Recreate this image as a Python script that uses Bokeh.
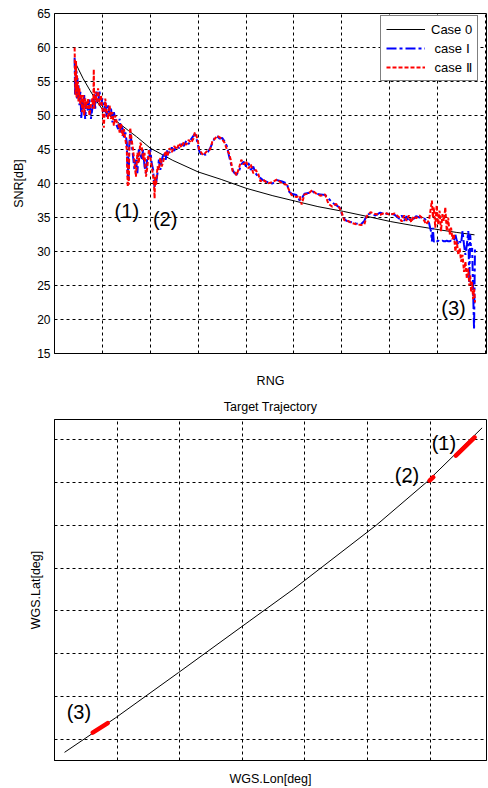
from bokeh.plotting import figure
from bokeh.models import Range1d, FixedTicker, Legend, LegendItem
from bokeh.layouts import column
from bokeh.embed import file_html
from bokeh.resources import INLINE
from bokeh.core.properties import value

# ---------------- data: SNR vs range ----------------
rng_x = [
    0.42, 0.43, 0.44, 0.45, 0.46, 0.47, 0.48, 0.49, 0.50, 0.52,
    0.54, 0.56, 0.58, 0.60, 0.62, 0.64, 0.67, 0.70, 0.73, 0.76,
    0.79, 0.81, 0.82, 0.83, 0.85, 0.88, 0.91, 0.94, 0.97, 1.00,
    1.03, 1.06, 1.09, 1.12, 1.15, 1.18, 1.21, 1.24, 1.27, 1.30,
    1.33, 1.36, 1.39, 1.42, 1.45, 1.48, 1.51, 1.52, 1.53, 1.54,
    1.55, 1.56, 1.58, 1.61, 1.64, 1.67, 1.70, 1.73, 1.76, 1.79,
    1.82, 1.85, 1.88, 1.91, 1.94, 1.97, 2.00, 2.03, 2.06, 2.08,
    2.09, 2.10, 2.12, 2.15, 2.18, 2.21, 2.24, 2.28, 2.32, 2.36,
    2.40, 2.45, 2.50, 2.55, 2.60, 2.65, 2.70, 2.75, 2.80, 2.85,
    2.90, 2.93, 2.96, 3.00, 3.02, 3.06, 3.10, 3.15, 3.20, 3.25,
    3.30, 3.35, 3.40, 3.45, 3.50, 3.55, 3.60, 3.64, 3.68, 3.72,
    3.76, 3.80, 3.85, 3.90, 3.95, 4.00, 4.05, 4.10, 4.15, 4.20,
    4.25, 4.30, 4.35, 4.45, 4.55, 4.65, 4.75, 4.85, 4.90, 4.95,
    5.05, 5.12, 5.16, 5.22, 5.30, 5.38, 5.45, 5.55, 5.65, 5.72,
    5.80, 5.88, 5.95, 6.00, 6.05, 6.10, 6.20, 6.30, 6.40, 6.47,
    6.52, 6.60, 6.70, 6.80, 6.90, 7.00, 7.10, 7.20, 7.25, 7.30,
    7.35, 7.40, 7.45, 7.50, 7.55, 7.62, 7.70, 7.76, 7.82, 7.86,
    7.88, 7.90, 7.92, 7.95, 7.98, 8.01, 8.04, 8.07, 8.10, 8.13,
    8.16, 8.19, 8.22, 8.25, 8.28, 8.31, 8.34, 8.37, 8.40, 8.43,
    8.46, 8.49, 8.52, 8.55, 8.58, 8.61, 8.64, 8.66, 8.68, 8.70,
    8.72, 8.74, 8.76, 8.78,
]

snr_case1 = [
    58.5, 53.0, 57.5, 54.0, 56.5, 52.5, 55.5, 53.0, 54.5, 51.5,
    53.5, 49.5, 52.5, 51.0, 53.0, 49.5, 52.0, 50.5, 52.5, 49.5,
    51.0, 52.5, 51.5, 53.0, 51.0, 53.5, 52.0, 53.5, 51.5, 52.5,
    50.5, 52.0, 49.8, 51.5, 50.0, 51.0, 49.0, 50.5, 49.5, 48.5,
    48.0, 49.5, 47.5, 48.5, 46.8, 47.5, 46.0, 43.0, 41.0, 44.0,
    40.5, 45.5, 47.5, 46.0, 44.0, 42.0, 43.5, 41.5, 45.0, 44.5,
    43.5, 45.0, 42.5, 41.5, 44.0, 43.5, 45.0, 43.0, 42.0, 40.0,
    39.5, 40.5, 40.0, 41.5, 43.5, 42.0, 43.5, 44.5, 43.5, 45.0,
    44.5, 45.3, 44.8, 45.6, 45.2, 45.8, 45.5, 46.3, 45.8, 46.5,
    47.0, 47.3, 46.8, 45.5, 44.8, 44.3, 44.5, 44.2, 44.6, 45.2,
    46.0, 46.8, 46.9, 46.6, 46.7, 46.2, 45.5, 44.2, 43.0, 42.0,
    41.5, 41.3, 41.8, 42.8, 43.2, 42.5, 43.0, 42.0, 42.5, 41.5,
    41.0, 40.8, 40.5, 40.2, 40.0, 40.5, 40.3, 40.0, 38.8, 38.5,
    38.3, 37.5, 37.8, 38.5, 38.6, 38.9, 38.5, 38.4, 38.3, 37.8,
    37.2, 36.8, 36.5, 35.5, 34.8, 34.5, 34.3, 34.1, 34.0, 34.5,
    35.4, 35.6, 35.3, 35.7, 35.5, 35.6, 35.4, 34.8, 35.3, 34.5,
    35.2, 34.4, 35.0, 34.8, 35.2, 35.0, 35.1, 34.5, 34.2, 33.0,
    31.5, 33.5, 31.4, 31.6, 31.5, 31.6, 31.5, 31.5, 31.6, 31.5,
    31.5, 31.6, 31.5, 31.5, 31.6, 31.5, 31.7, 32.5, 31.6, 31.0,
    31.5, 31.2, 33.0, 31.0, 29.5, 31.0, 33.0, 25.5, 32.5, 30.0,
    30.5, 24.5, 18.5, 30.7,
]

snr_case2 = [
    60.0, 55.5, 53.0, 58.0, 52.5, 56.0, 53.5, 55.0, 52.0, 54.0,
    51.5, 53.0, 50.5, 53.0, 50.0, 52.5, 51.0, 52.5, 50.0, 51.5,
    52.5, 51.0, 56.8, 51.0, 53.5, 52.0, 54.0, 51.5, 53.0, 51.0,
    48.2, 52.5, 50.5, 49.5, 51.5, 49.5, 50.5, 48.5, 50.0, 49.0,
    49.0, 47.5, 48.8, 47.0, 48.0, 46.5, 45.0, 41.5, 39.5, 42.5,
    39.8, 44.5, 48.2, 46.5, 45.0, 43.0, 41.0, 44.5, 43.0, 46.0,
    45.5, 43.5, 44.5, 41.0, 42.5, 45.0, 44.0, 42.5, 41.0, 39.5,
    37.8, 41.0, 39.8, 42.5, 42.0, 43.8, 42.5, 43.5, 44.8, 44.0,
    45.2, 44.6, 45.5, 45.0, 45.9, 45.3, 46.1, 45.7, 46.4, 46.0,
    46.6, 47.5, 47.2, 46.0, 45.0, 44.6, 44.2, 44.5, 44.9, 45.0,
    46.3, 46.6, 47.0, 46.8, 46.5, 46.0, 45.0, 44.5, 43.5, 41.8,
    41.8, 41.2, 42.2, 43.5, 42.8, 43.3, 42.2, 42.8, 41.5, 42.0,
    41.5, 40.3, 40.6, 40.0, 40.2, 40.6, 40.0, 39.8, 39.0, 38.3,
    38.0, 38.2, 36.9, 38.4, 38.5, 39.0, 38.6, 38.2, 38.4, 37.0,
    36.6, 37.0, 36.4, 35.7, 34.6, 34.6, 34.2, 34.0, 33.9, 34.0,
    35.2, 35.8, 35.5, 35.4, 35.7, 35.4, 35.6, 35.0, 34.4, 35.3,
    34.5, 35.3, 34.3, 35.2, 34.9, 35.3, 34.8, 34.0, 34.6, 36.5,
    37.5, 35.0, 36.5, 33.5, 36.8, 34.0, 36.0, 33.0, 35.5, 34.5,
    36.5, 33.0, 35.0, 32.5, 33.5, 31.8, 32.5, 30.0, 31.5, 29.5,
    30.5, 28.5, 29.5, 27.0, 28.5, 26.0, 27.5, 25.0, 26.5, 24.0,
    25.5, 23.0, 24.5, 22.5,
]

case0_x = [0.46, 0.60, 0.74, 0.88, 1.01, 1.20, 1.36, 1.54, 1.71, 2.00, 2.47, 3.00,
           3.48, 4.00, 4.56, 5.03, 5.50, 6.03, 6.50, 7.02, 7.50, 8.03, 8.40, 8.77]
case0_snr = [57.4, 55.4, 53.7, 52.1, 50.8, 49.7, 48.8, 47.8, 46.9, 45.2, 43.4, 41.7,
             40.6, 39.3, 38.2, 37.4, 36.6, 35.9, 35.2, 34.4, 33.8, 33.2, 32.8, 32.45]

snr_ticks = [15, 20, 25, 30, 35, 40, 45, 50, 55, 60, 65]
rng_ticks = [0, 1, 2, 3, 4, 5, 6, 7, 8, 9]

snr_mark_text = ["(1)", "(2)", "(3)"]
snr_mark_x = [1.51, 2.31, 8.33]
snr_mark_y = [35.97, 34.8, 21.75]

# ---------------- data: target trajectory ----------------
traj_lon = [0.16, 0.97, 1.98, 3.12, 3.81, 5.14, 5.94, 6.83]
traj_lat = [-0.30, 0.50, 1.56, 2.77, 3.50, 5.00, 6.00, 7.27]

seg1_lon = [6.41, 6.71]
seg1_lat = [6.62, 7.05]
seg2_lon = [5.99, 6.05]
seg2_lat = [6.04, 6.12]
seg3_lon = [0.61, 0.85]
seg3_lat = [0.16, 0.38]

lon_ticks = [0, 1, 2, 3, 4, 5, 6]
lat_ticks = [0, 1, 2, 3, 4, 5, 6, 7]

traj_mark_text = ["(1)", "(2)", "(3)"]
traj_mark_lon = [6.22, 5.63, 0.39]
traj_mark_lat = [6.92, 6.17, 0.63]

FONT = "Liberation Sans"


def style_axes(p, xticks, yticks):
    for ax in (p.xaxis[0], p.yaxis[0]):
        ax.axis_line_color = "black"
        ax.major_tick_in = 0
        ax.major_tick_out = 0
        ax.minor_tick_line_color = None
        ax.major_label_text_font = FONT
        ax.major_label_text_font_size = "12px"
        ax.major_label_text_color = "black"
        ax.axis_label_text_font = FONT
        ax.axis_label_text_font_size = "12.5px"
        ax.axis_label_text_font_style = "normal"
        ax.axis_label_text_color = "black"
    p.xaxis.ticker = FixedTicker(ticks=xticks)
    p.yaxis.ticker = FixedTicker(ticks=yticks)
    p.xgrid.ticker = FixedTicker(ticks=xticks)
    p.ygrid.ticker = FixedTicker(ticks=yticks)
    for g in (p.xgrid[0], p.ygrid[0]):
        g.grid_line_color = "black"
        g.grid_line_dash = "3 3"
        g.grid_line_width = 1
        g.grid_line_alpha = 1.0
    p.outline_line_color = "black"
    p.outline_line_width = 1
    p.outline_line_alpha = 1.0
    p.background_fill_color = "white"
    p.border_fill_color = "white"


# ---------------- top figure ----------------
p1 = figure(width=488, height=390, output_backend="svg", toolbar_location=None,
            x_range=Range1d(0, 9.02), y_range=Range1d(15, 65),
            min_border_left=51, min_border_right=2, min_border_top=13,
            min_border_bottom=36)
style_axes(p1, rng_ticks, snr_ticks)
p1.xaxis.major_label_overrides = {t: "" for t in rng_ticks}
p1.xaxis.axis_label = "RNG"
p1.xaxis.axis_label_standoff = 20
p1.yaxis.major_label_standoff = 4
p1.yaxis.axis_label = "SNR[dB]"
p1.yaxis.axis_label_standoff = 8

r0 = p1.line(case0_x, case0_snr, line_color="black", line_width=1)
r1 = p1.line(rng_x, snr_case1, line_color="#0000ff", line_width=2,
             line_dash="10 3 3 3")
r2 = p1.line(rng_x, snr_case2, line_color="#ff0000", line_width=2,
             line_dash="4 2")

p1.text(x=snr_mark_x, y=snr_mark_y, text=snr_mark_text,
        text_font=value(FONT), text_font_size="20px", text_color="black",
        text_align="center", text_baseline="middle")

legend = Legend(items=[LegendItem(label="Case 0", renderers=[r0]),
                       LegendItem(label=" case \u2160", renderers=[r1]),
                       LegendItem(label=" case \u2161", renderers=[r2])],
                location=(326, 272))
legend.border_line_color = "black"
legend.border_line_width = 1
legend.background_fill_color = "white"
legend.background_fill_alpha = 1.0
legend.label_text_font = FONT
legend.label_text_font_size = "13px"
legend.label_text_color = "black"
legend.glyph_width = 39
legend.glyph_height = 16
legend.label_height = 16
legend.label_standoff = 6
legend.spacing = 3
legend.padding = 5
legend.margin = 0
p1.add_layout(legend)

# ---------------- bottom figure ----------------
p2 = figure(width=488, height=398, output_backend="svg", toolbar_location=None,
            x_range=Range1d(0, 6.9), y_range=Range1d(-0.49, 7.465),
            min_border_left=54, min_border_right=1, min_border_top=29,
            min_border_bottom=27, title="Target Trajectory")
style_axes(p2, lon_ticks, lat_ticks)
p2.xaxis.major_label_overrides = {t: "" for t in lon_ticks}
p2.yaxis.major_label_overrides = {t: "" for t in lat_ticks}
p2.xaxis.axis_label = "WGS.Lon[deg]"
p2.yaxis.axis_label = "WGS.Lat[deg]"
p2.xaxis.axis_label_standoff = 11
p2.yaxis.axis_label_standoff = 12
p2.title.align = "center"
p2.title.text_font = FONT
p2.title.text_font_size = "12.5px"
p2.title.text_font_style = "normal"
p2.title.text_color = "black"
p2.title.standoff = 12

p2.line(traj_lon, traj_lat, line_color="black", line_width=1)
for lo, la in ((seg1_lon, seg1_lat), (seg2_lon, seg2_lat), (seg3_lon, seg3_lat)):
    p2.line(lo, la, line_color="#ff0000", line_width=4.5, line_cap="round")

p2.text(x=traj_mark_lon, y=traj_mark_lat, text=traj_mark_text,
        text_font=value(FONT), text_font_size="20px", text_color="black",
        text_align="center", text_baseline="middle")

layout = column(p1, p2)
open("out.html", "w").write(file_html(layout, INLINE))
